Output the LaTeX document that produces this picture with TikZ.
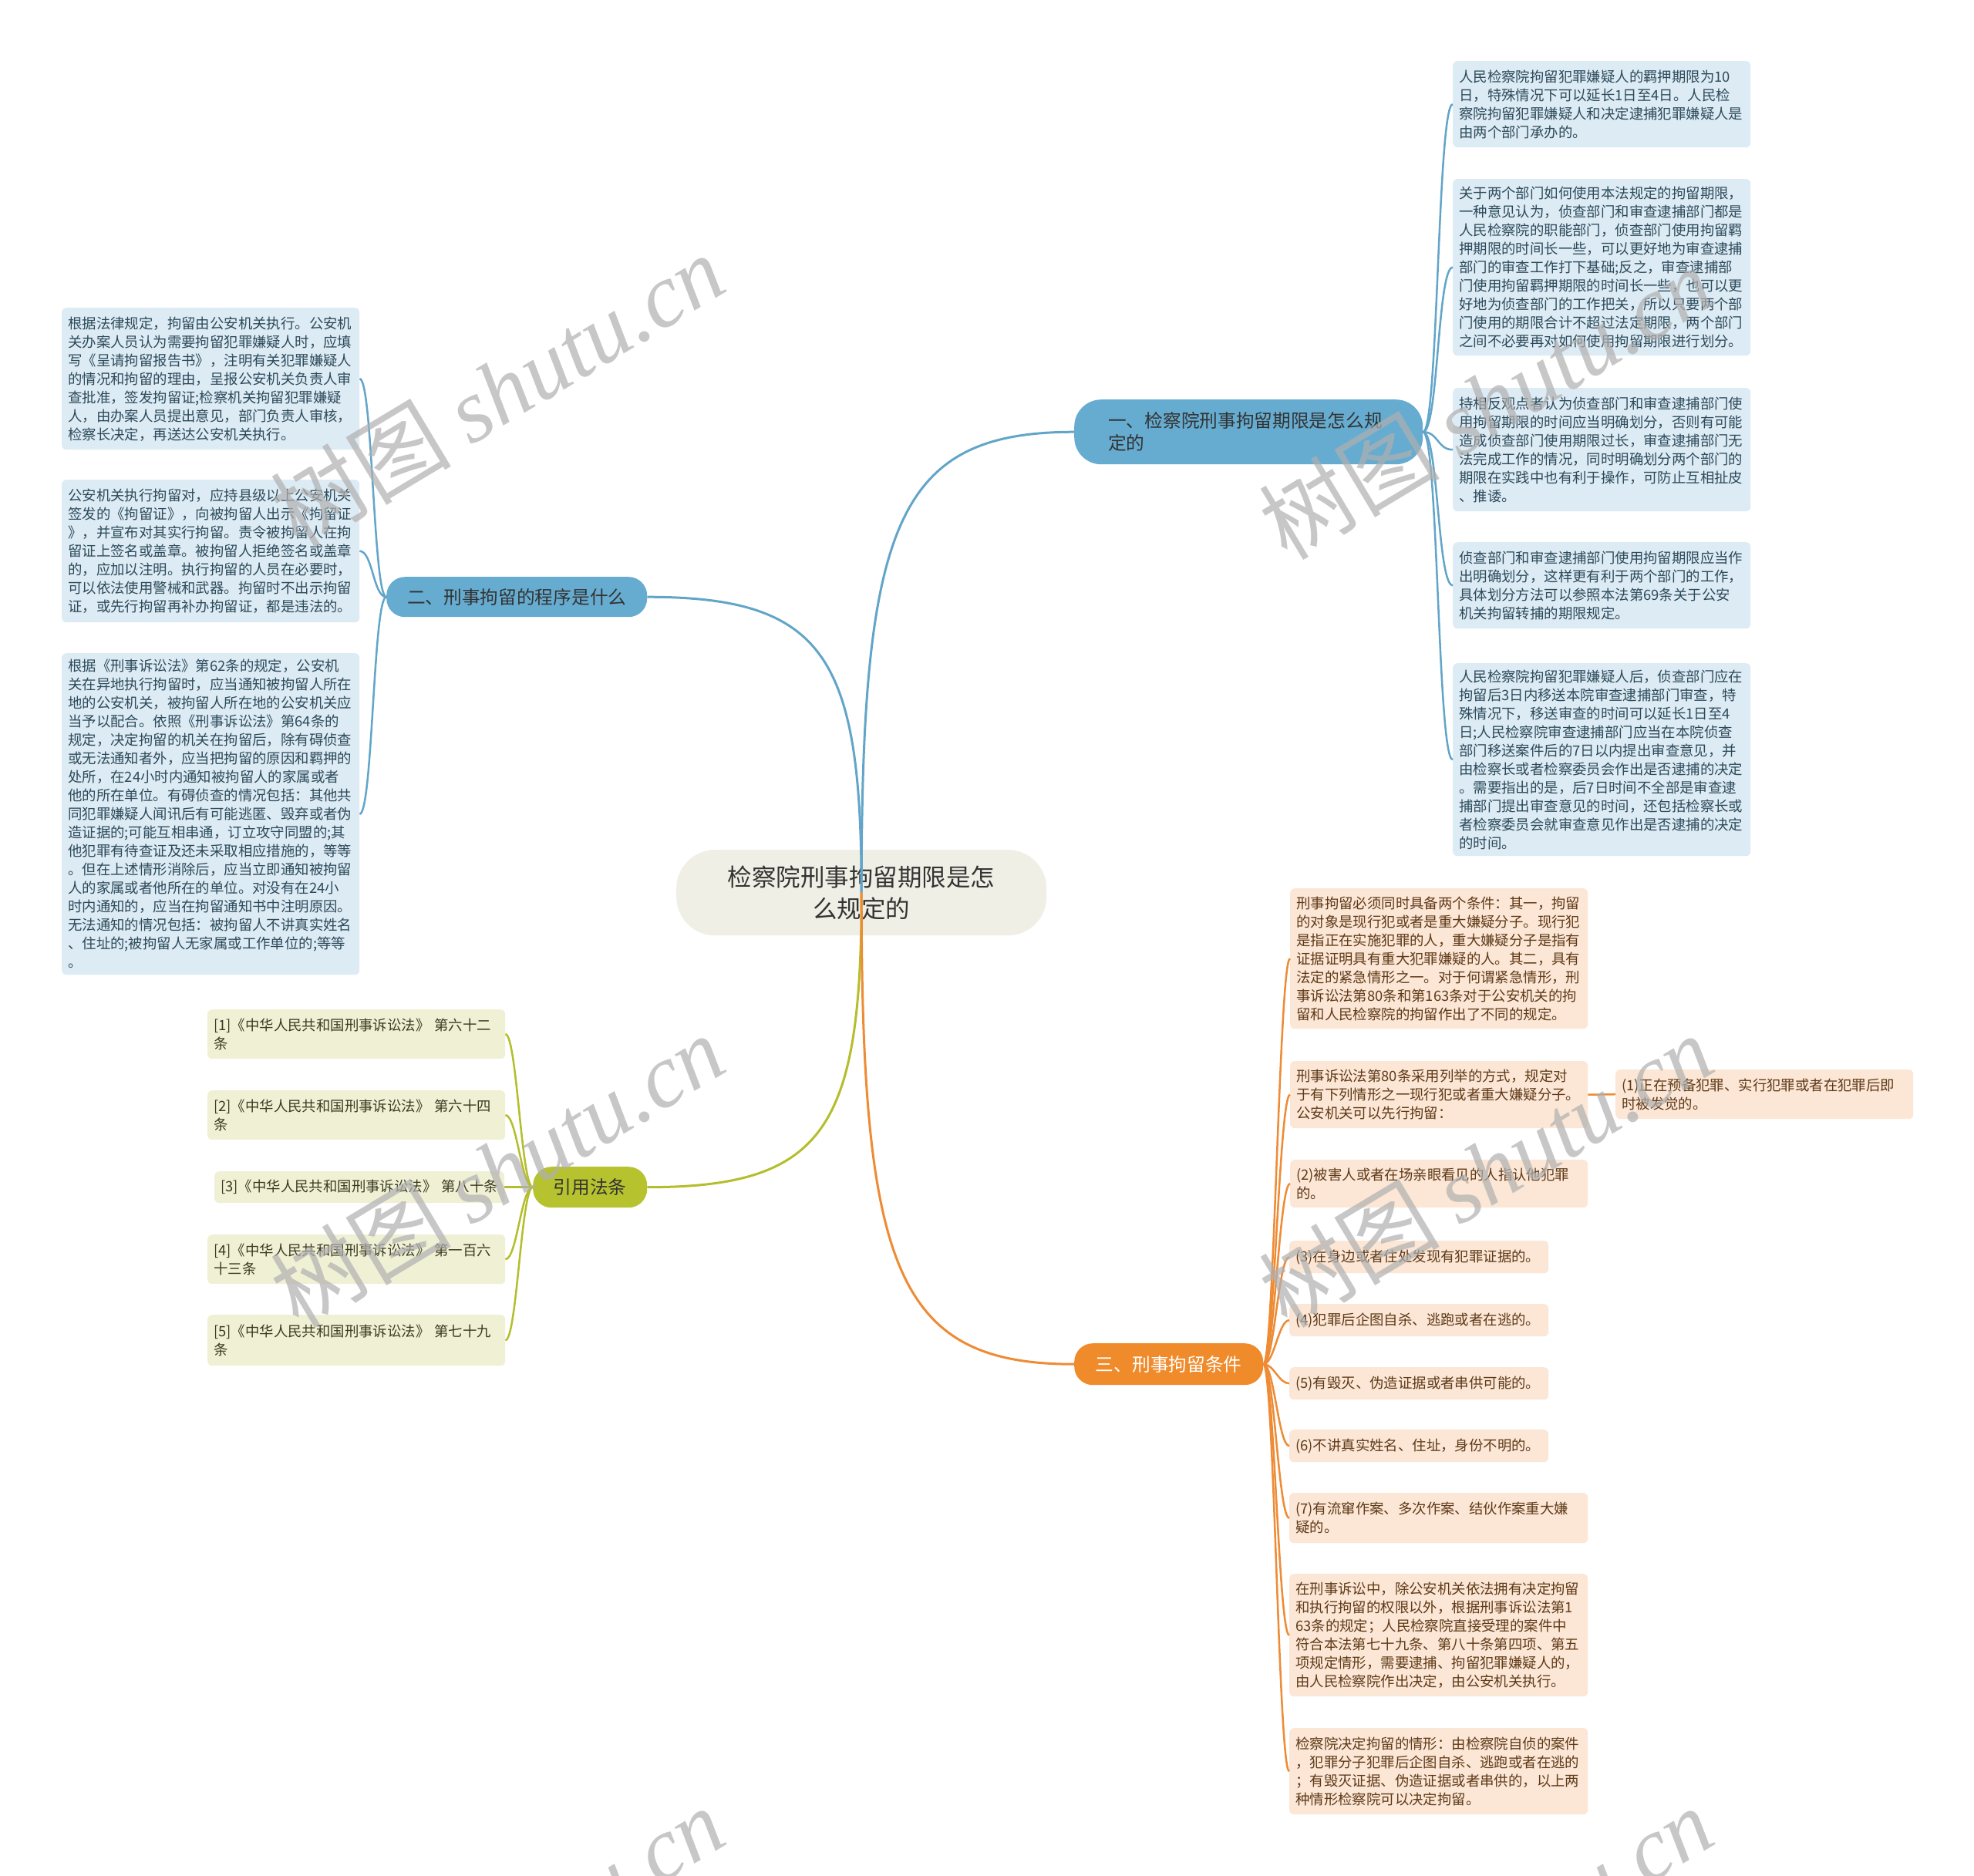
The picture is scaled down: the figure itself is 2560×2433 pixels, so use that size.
\documentclass[tikz,border=0pt]{standalone}
\usepackage{fontspec}
\setmainfont{Noto Sans CJK SC}
\newfontfamily\wmlatin{Liberation Serif}
\usetikzlibrary{calc}
\definecolor{bluemain}{HTML}{66ACD0}
\definecolor{blueline}{HTML}{62A5C9}
\definecolor{blueleaf}{HTML}{DDEBF4}
\definecolor{bluetext}{HTML}{2C4A5A}
\definecolor{orgmain}{HTML}{F08B2C}
\definecolor{orgline}{HTML}{EE8B35}
\definecolor{orgleaf}{HTML}{FCE6D6}
\definecolor{orgtext}{HTML}{5E3A17}
\definecolor{grnmain}{HTML}{B6C22E}
\definecolor{grnline}{HTML}{B4BE2C}
\definecolor{grnleaf}{HTML}{F0F0D5}
\definecolor{grntext}{HTML}{3B3B22}
\definecolor{ctrfill}{HTML}{EFEFE6}
\definecolor{ctrtext}{HTML}{333333}
\definecolor{wmgray}{HTML}{B0B0B0}
\begin{document}
\begin{tikzpicture}[x=1pt,y=-1pt,
  leafbox/.style={rounded corners=6pt, inner xsep=8pt, inner ysep=2pt, align=left,
    anchor=north west, text width=370pt, font=\fontsize{18.4}{24}\selectfont},
  bleaf/.style={leafbox, fill=blueleaf, text=bluetext},
  oleaf/.style={leafbox, fill=orgleaf, text=orgtext},
  gleaf/.style={leafbox, fill=grnleaf, text=grntext},
  branchbox/.style={anchor=north west, inner sep=0pt, align=center,
    font=\fontsize{23.7}{29}\selectfont},
  bmain/.style={draw=blueline, line width=3pt},
  omain/.style={draw=orgline, line width=3pt},
  gmain/.style={draw=grnline, line width=3pt},
  bsub/.style={draw=blueline, line width=2.5pt},
  osub/.style={draw=orgline, line width=2.5pt},
  gsub/.style={draw=grnline, line width=2.5pt},
  wm/.style={text=wmgray, opacity=0.7, rotate=31, font=\fontsize{117}{125}\selectfont}
]
\useasboundingbox[fill=white] (0,0) rectangle (2560,2433);

% center
\node[anchor=north west, fill=ctrfill, rounded corners=50pt, minimum width=480pt,
  minimum height=111pt, inner sep=0pt, align=center, text=ctrtext,
  font=\fontsize{31.5}{41}\selectfont] (c) at (877,1102)
  {检察院刑事拘留期限是怎\\么规定的};

% branches
\node[branchbox, fill=bluemain, rounded corners=35pt, minimum height=84pt,
  text width=364pt, inner xsep=44pt, align=left, text=ctrtext] (b1) at (1393,518)
  {一、检察院刑事拘留期限是怎么规\\定的};
\node[branchbox, fill=bluemain, rounded corners=24pt, minimum width=338pt,
  minimum height=52pt, text=ctrtext] (b2) at (501,748) {二、刑事拘留的程序是什么};
\node[branchbox, fill=grnmain, rounded corners=24pt, minimum width=148pt,
  minimum height=53pt, text=ctrtext] (b3) at (691,1513) {引用法条};
\node[branchbox, fill=orgmain, rounded corners=24pt, minimum width=245pt,
  minimum height=54pt, text=white] (b4) at (1393,1742) {三、刑事拘留条件};

% right blue leaves
\node[bleaf, minimum height=112pt] (r1) at (1884,79)
{人民检察院拘留犯罪嫌疑人的羁押期限为10\\日，特殊情况下可以延长1日至4日。人民检\\察院拘留犯罪嫌疑人和决定逮捕犯罪嫌疑人是\\由两个部门承办的。};
\node[bleaf, minimum height=229pt] (r2) at (1884,232)
{关于两个部门如何使用本法规定的拘留期限，\\一种意见认为，侦查部门和审查逮捕部门都是\\人民检察院的职能部门，侦查部门使用拘留羁\\押期限的时间长一些，可以更好地为审查逮捕\\部门的审查工作打下基础;反之，审查逮捕部\\门使用拘留羁押期限的时间长一些，也可以更\\好地为侦查部门的工作把关，所以只要两个部\\门使用的期限合计不超过法定期限，两个部门\\之间不必要再对如何使用拘留期限进行划分。};
\node[bleaf, minimum height=160pt] (r3) at (1884,503)
{持相反观点者认为侦查部门和审查逮捕部门使\\用拘留期限的时间应当明确划分，否则有可能\\造成侦查部门使用期限过长，审查逮捕部门无\\法完成工作的情况，同时明确划分两个部门的\\期限在实践中也有利于操作，可防止互相扯皮\\、推诿。};
\node[bleaf, minimum height=112pt] (r4) at (1884,703)
{侦查部门和审查逮捕部门使用拘留期限应当作\\出明确划分，这样更有利于两个部门的工作，\\具体划分方法可以参照本法第69条关于公安\\机关拘留转捕的期限规定。};
\node[bleaf, minimum height=250pt] (r5) at (1884,860)
{人民检察院拘留犯罪嫌疑人后，侦查部门应在\\拘留后3日内移送本院审查逮捕部门审查，特\\殊情况下，移送审查的时间可以延长1日至4\\日;人民检察院审查逮捕部门应当在本院侦查\\部门移送案件后的7日以内提出审查意见，并\\由检察长或者检察委员会作出是否逮捕的决定\\。需要指出的是，后7日时间不全部是审查逮\\捕部门提出审查意见的时间，还包括检察长或\\者检察委员会就审查意见作出是否逮捕的决定\\的时间。};

% left blue leaves
\node[bleaf, minimum height=184pt] (l1) at (80,399)
{根据法律规定，拘留由公安机关执行。公安机\\关办案人员认为需要拘留犯罪嫌疑人时，应填\\写《呈请拘留报告书》，注明有关犯罪嫌疑人\\的情况和拘留的理由，呈报公安机关负责人审\\查批准，签发拘留证;检察机关拘留犯罪嫌疑\\人，由办案人员提出意见，部门负责人审核，\\检察长决定，再送达公安机关执行。};
\node[bleaf, minimum height=185pt] (l2) at (80,622)
{公安机关执行拘留对，应持县级以上公安机关\\签发的《拘留证》，向被拘留人出示《拘留证\\》，并宣布对其实行拘留。责令被拘留人在拘\\留证上签名或盖章。被拘留人拒绝签名或盖章\\的，应加以注明。执行拘留的人员在必要时，\\可以依法使用警械和武器。拘留时不出示拘留\\证，或先行拘留再补办拘留证，都是违法的。};
\node[bleaf, minimum height=417pt] (l3) at (80,847)
{根据《刑事诉讼法》第62条的规定，公安机\\关在异地执行拘留时，应当通知被拘留人所在\\地的公安机关，被拘留人所在地的公安机关应\\当予以配合。依照《刑事诉讼法》第64条的\\规定，决定拘留的机关在拘留后，除有碍侦查\\或无法通知者外，应当把拘留的原因和羁押的\\处所，在24小时内通知被拘留人的家属或者\\他的所在单位。有碍侦查的情况包括：其他共\\同犯罪嫌疑人闻讯后有可能逃匿、毁弃或者伪\\造证据的;可能互相串通，订立攻守同盟的;其\\他犯罪有待查证及还未采取相应措施的，等等\\。但在上述情形消除后，应当立即通知被拘留\\人的家属或者他所在的单位。对没有在24小\\时内通知的，应当在拘留通知书中注明原因。\\无法通知的情况包括：被拘留人不讲真实姓名\\、住址的;被拘留人无家属或工作单位的;等等\\。};

% green leaves
\node[gleaf, minimum height=64pt] (g1) at (269,1309) {[1]《中华人民共和国刑事诉讼法》 第六十二\\条};
\node[gleaf, minimum height=64pt] (g2) at (269,1414) {[2]《中华人民共和国刑事诉讼法》 第六十四\\条};
\node[gleaf, minimum height=41pt, text width=360pt] (g3) at (278,1519) {[3]《中华人民共和国刑事诉讼法》 第八十条};
\node[gleaf, minimum height=64pt] (g4) at (269,1601) {[4]《中华人民共和国刑事诉讼法》 第一百六\\十三条};
\node[gleaf, minimum height=66pt] (g5) at (269,1705) {[5]《中华人民共和国刑事诉讼法》 第七十九\\条};

% orange leaves
\node[oleaf, minimum height=182pt] (o1) at (1673,1152)
{刑事拘留必须同时具备两个条件：其一，拘留\\的对象是现行犯或者是重大嫌疑分子。现行犯\\是指正在实施犯罪的人，重大嫌疑分子是指有\\证据证明具有重大犯罪嫌疑的人。其二，具有\\法定的紧急情形之一。对于何谓紧急情形，刑\\事诉讼法第80条和第163条对于公安机关的拘\\留和人民检察院的拘留作出了不同的规定。};
\node[oleaf, minimum height=87pt] (o2) at (1673,1376)
{刑事诉讼法第80条采用列举的方式，规定对\\于有下列情形之一现行犯或者重大嫌疑分子。\\公安机关可以先行拘留：};
\node[oleaf, minimum height=64pt] (o2a) at (2095,1387)
{(1)正在预备犯罪、实行犯罪或者在犯罪后即\\时被发觉的。};
\node[oleaf, minimum height=62pt] (o3) at (1673,1504)
{(2)被害人或者在场亲眼看见的人指认他犯罪\\的。};
\node[oleaf, minimum height=42pt, text width=320pt] (o4) at (1672,1609) {(3)在身边或者住处发现有犯罪证据的。};
\node[oleaf, minimum height=42pt, text width=320pt] (o5) at (1672,1691) {(4)犯罪后企图自杀、逃跑或者在逃的。};
\node[oleaf, minimum height=42pt, text width=320pt] (o6) at (1672,1773) {(5)有毁灭、伪造证据或者串供可能的。};
\node[oleaf, minimum height=42pt, text width=320pt] (o7) at (1672,1854) {(6)不讲真实姓名、住址，身份不明的。};
\node[oleaf, minimum height=65pt, text width=371pt] (o8) at (1672,1936)
{(7)有流窜作案、多次作案、结伙作案重大嫌\\疑的。};
\node[oleaf, minimum height=159pt, text width=371pt] (o9) at (1672,2041)
{在刑事诉讼中，除公安机关依法拥有决定拘留\\和执行拘留的权限以外，根据刑事诉讼法第1\\63条的规定；人民检察院直接受理的案件中\\符合本法第七十九条、第八十条第四项、第五\\项规定情形，需要逮捕、拘留犯罪嫌疑人的，\\由人民检察院作出决定，由公安机关执行。};
\node[oleaf, minimum height=112pt, text width=371pt] (o10) at (1672,2241)
{检察院决定拘留的情形：由检察院自侦的案件\\，犯罪分子犯罪后企图自杀、逃跑或者在逃的\\；有毁灭证据、伪造证据或者串供的，以上两\\种情形检察院可以决定拘留。};

% main connectors
\draw[bmain] (c.center) .. controls +(0,-480) and +(-230,0) .. (b1.west);
\draw[bmain] (c.center) .. controls +(0,-306) and +(230,0) .. (b2.east);
\draw[gmain] (c.center) .. controls +(0,306) and +(230,0) .. (b3.east);
\draw[omain] (c.center) .. controls +(0,490) and +(-230,0) .. (b4.west);

% sub connectors
\foreach \n in {r1,r2,r3,r4,r5}
  \draw[bsub] (b1.east) .. controls +(20,0) and +(-20,0) .. (\n.west);
\foreach \n in {l1,l2,l3}
  \draw[bsub] (b2.west) .. controls +(-17,0) and +(17,0) .. (\n.east);
\foreach \n in {g1,g2,g3,g4,g5}
  \draw[gsub] (b3.west) .. controls +(-15,0) and +(15,0) .. (\n.east);
\foreach \n in {o1,o2,o3,o4,o5,o6,o7,o8,o9,o10}
  \draw[osub] (b4.east) .. controls +(14,0) and +(-14,0) .. (\n.west);
\draw[osub] (o2.east) -- (o2a.west);

% watermarks
\node[wm] (w1) at (645,506) {树图 {\wmlatin\itshape shutu.cn}};
\node[wm] (w2) at (1927,522) {树图 {\wmlatin\itshape shutu.cn}};
\node[wm] (w3) at (645,1518) {树图 {\wmlatin\itshape shutu.cn}};
\node[wm] (w4) at (1927,1518) {树图 {\wmlatin\itshape shutu.cn}};
\node[wm] (w5) at (645,2520) {树图 {\wmlatin\itshape shutu.cn}};
\node[wm] (w6) at (1927,2520) {树图 {\wmlatin\itshape shutu.cn}};
\end{tikzpicture}
\end{document}
